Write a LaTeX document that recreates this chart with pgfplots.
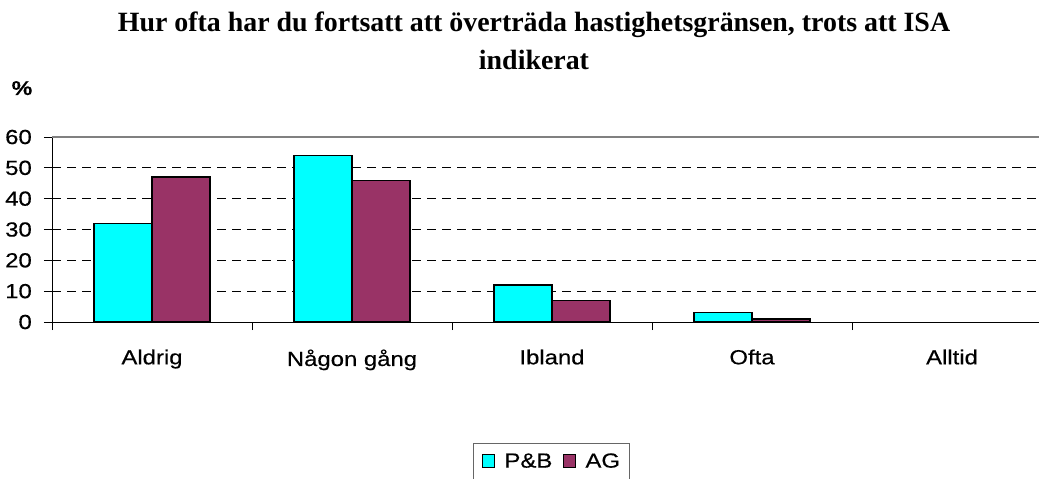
\documentclass[border=0pt]{standalone}
\usepackage{fontspec}
\setmainfont{Liberation Sans}[FakeStretch=1.17, FakeBold=0.4]
\newfontfamily\titlefont{Liberation Serif}
\usepackage{pgfplots}
\pgfplotsset{compat=1.18}
\definecolor{pbcyan}{RGB}{0,255,255}
\definecolor{agred}{RGB}{153,51,102}

\begin{document}
\begin{tikzpicture}
\useasboundingbox (0bp,0bp) rectangle (1039bp,479bp);

% title and unit label
\node[anchor=base, font=\titlefont\bfseries\fontsize{28}{36}\selectfont]
  at (534bp,447bp) {Hur ofta har du fortsatt att överträda hastighetsgränsen, trots att ISA};
\node[anchor=base, font=\titlefont\bfseries\fontsize{28}{36}\selectfont]
  at (534bp,409bp) {indikerat};
\node[anchor=base, font=\bfseries\fontsize{20}{22}\selectfont] at (22bp,384bp) {\%};

\begin{axis}[
    at={(52bp,157bp)}, anchor=south west,
    width=987bp, height=185bp, scale only axis,
    xmin=-0.5, xmax=4.435,
    ymin=0, ymax=60,
    ybar=0pt, bar width=0.29,
    axis x line*=bottom, axis y line*=left,
    axis line style={black, line width=1bp},
    xtick={0,1,2,3,4},
    xticklabels={Aldrig, Någon gång, Ibland, Ofta, Alltid},
    minor xtick={-0.5,0.5,1.5,2.5,3.5},
    ytick={0,10,...,50},
    extra y ticks={60},
    extra y tick style={major grid style={solid, black!50, line width=1.3bp}},
    tick align=outside,
    major tick length=8bp, minor tick length=8bp,
    every major x tick/.append style={draw=none},
    every tick/.append style={black, line width=1bp},
    ymajorgrids=true,
    major grid style={black, line width=1bp, dash pattern=on 9bp off 6bp},
    /pgf/number format/assume math mode=true,
    tick label style={font=\fontsize{20.5}{22}\selectfont},
    yticklabel style={inner sep=0pt, xshift=-12bp},
    xticklabel style={yshift=-16bp},
    legend columns=-1,
    legend style={at={(0.4265,-0.654)}, anchor=north west,
        draw=black!60, line width=0.8bp,
        font=\fontsize{20.5}{22}\selectfont,
        inner xsep=9bp, inner ysep=10bp,
        nodes={inner xsep=0pt, inner ysep=0pt},
        /tikz/every even column/.append style={column sep=11bp}},
    legend image code/.code={%
        \draw[#1, line width=1bp] (0bp,-6.5bp) rectangle (12bp,6.5bp);
        \path (21bp,0bp);},
]
\addplot[fill=pbcyan, draw=black, line width=1.3bp]
  coordinates {(0,32) (1,54) (2,12) (3,3)};
\addplot[fill=agred, draw=black, line width=1.3bp]
  coordinates {(0,47) (1,46) (2,7) (3,1)};
\legend{P\&B, AG}
\end{axis}
\end{tikzpicture}
\end{document}
